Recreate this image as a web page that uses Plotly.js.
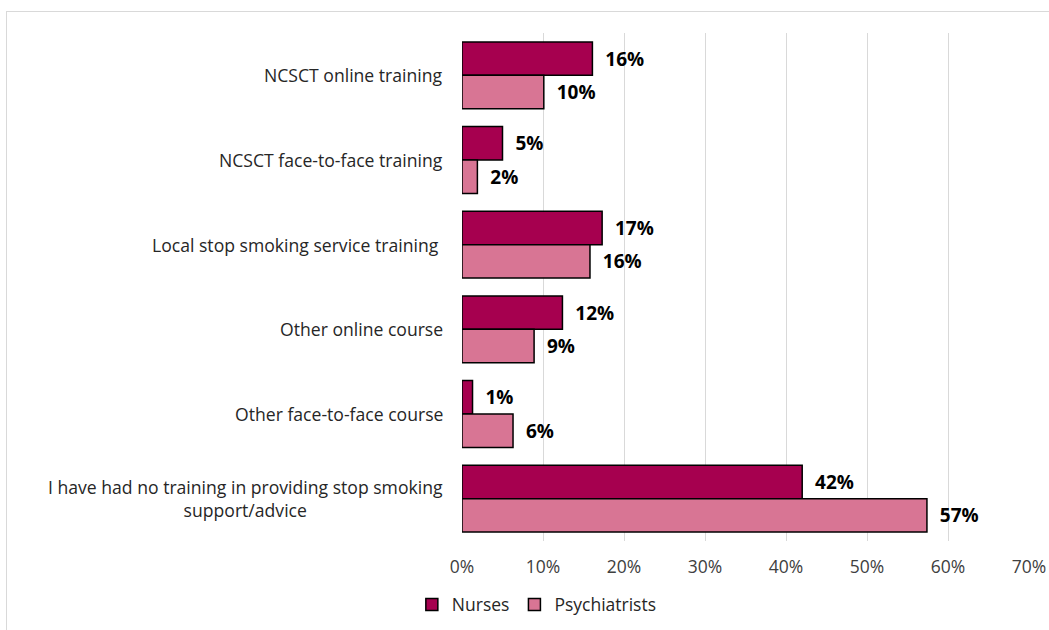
<!DOCTYPE html>
<html>
<head>
<meta charset="utf-8">
<script src="https://cdn.plot.ly/plotly-3.0.1.min.js"></script>
<style>
  html, body { margin: 0; padding: 0; background: #ffffff; }
  #frame { position: absolute; left: 6px; top: 11px; width: 1100px; height: 700px;
           border-top: 1px solid #d9d9d9; border-left: 1px solid #d9d9d9; }
  #chart { position: absolute; left: 0; top: 0; width: 1049px; height: 630px; }
</style>
</head>
<body>
<div id="frame"></div>
<div id="chart"></div>
<script>
const categories = [
  "NCSCT online training",
  "NCSCT face-to-face training",
  "Local stop smoking service training ",
  "Other online course",
  "Other face-to-face course",
  "I have had no training in providing stop smoking<br>support/advice"
];
const nurses = [16.1, 5.0, 17.3, 12.4, 1.3, 42.0];
const psychiatrists = [10.1, 1.9, 15.8, 8.9, 6.3, 57.4];
const seriesNames = ["Nurses", "Psychiatrists"];
const tickVals = [0, 10, 20, 30, 40, 50, 60, 70];
const tickText = ["0%", "10%", "20%", "30%", "40%", "50%", "60%", "70%"];

const FONT = "'Open Sans', 'Noto Sans', sans-serif";
const NBSP = "\u00a0\u00a0";

function barTrace(name, values, color) {
  return {
    type: "bar",
    orientation: "h",
    name: name,
    y: categories,
    x: values,
    marker: { color: color, line: { color: "#000000", width: 1.5 } },
    texttemplate: NBSP + "%{x:.0f}%",
    textposition: "outside",
    textfont: { family: FONT, size: 19, color: "#000000", weight: "bold" },
    cliponaxis: false,
    hoverinfo: "x+y"
  };
}

const data = [
  barTrace(seriesNames[0], nurses, "#A6004F"),
  barTrace(seriesNames[1], psychiatrists, "#D87594")
];

const annotations = categories.map(c => ({
  xref: "paper", yref: "y",
  x: 0, y: c,
  xanchor: "right", yanchor: "middle",
  xshift: -17,
  text: c, align: "center", showarrow: false,
  font: { family: FONT, size: 17.6, color: "#262626" }
}));

const layout = {
  width: 1049, height: 630,
  margin: { l: 462, r: 20, t: 32.6, b: 88.6, pad: 0, autoexpand: false },
  paper_bgcolor: "rgba(0,0,0,0)",
  plot_bgcolor: "rgba(0,0,0,0)",
  barmode: "group",
  bargap: 0.21,
  bargroupgap: 0,
  font: { family: FONT, size: 17.5, color: "#404040" },
  xaxis: {
    range: [0, 70],
    tickvals: tickVals,
    ticktext: tickText,
    showgrid: true, gridcolor: "#d9d9d9", gridwidth: 1,
    zeroline: false, showline: false,
    ticks: "", ticklabelstandoff: 13,
    tickfont: { family: FONT, size: 17.5, color: "#404040" },
    fixedrange: true,
    automargin: false
  },
  yaxis: {
    type: "category",
    autorange: "reversed",
    showticklabels: false,
    showgrid: false, zeroline: false, showline: false, ticks: "",
    fixedrange: true,
    automargin: false
  },
  showlegend: true,
  legend: {
    orientation: "h",
    x: 0.132, xanchor: "center",
    y: -0.125, yanchor: "middle",
    font: { family: FONT, size: 17.5, color: "#262626" },
    traceorder: "normal",
    itemwidth: 30
  },
  annotations: annotations
};

Plotly.newPlot("chart", data, layout, { displayModeBar: false, staticPlot: true });
</script>
</body>
</html>
